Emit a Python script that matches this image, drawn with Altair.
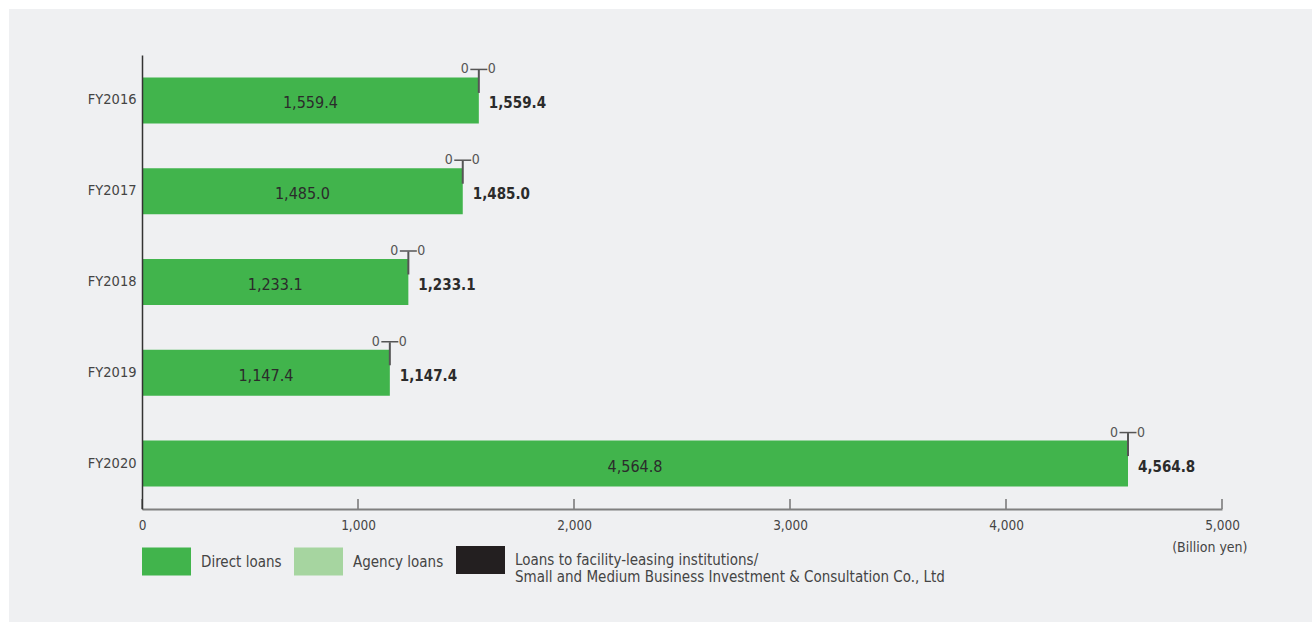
import altair as alt
import pandas as pd

years = ["FY2016", "FY2017", "FY2018", "FY2019", "FY2020"]
direct = [1559.4, 1485.0, 1233.1, 1147.4, 4564.8]
agency = [0, 0, 0, 0, 0]
facility = [0, 0, 0, 0, 0]
series = [
    "Direct loans",
    "Agency loans",
    "Loans to facility-leasing institutions/ Small and Medium Business Investment & Consultation Co., Ltd",
]
colors = ["#41b44c", "#a6d5a0", "#231f20"]
tick_values = [0, 1000, 2000, 3000, 4000, 5000]

FONT = "DejaVu Sans Condensed, Liberation Sans Narrow, sans-serif"
W, H = 1080, 454

rows = []
for i, y in enumerate(years):
    for k, (s, vals) in enumerate(zip(series, [direct, agency, facility])):
        rows.append({"year": y, "series": s, "value": vals[i], "order": k})
long_df = pd.DataFrame(rows)

wide_df = pd.DataFrame({
    "year": years,
    "direct": direct,
    "agency": agency,
    "facility": facility,
})
wide_df["total"] = wide_df["direct"] + wide_df["agency"] + wide_df["facility"]
wide_df["mid"] = wide_df["direct"] / 2

ticks_df = pd.DataFrame({"t": tick_values})

xscale = alt.Scale(domain=[0, 5000], nice=False, zero=True)
yscale = alt.Scale(domain=years, paddingInner=0.494, paddingOuter=0.2475)

ylab = alt.Y("year:N", scale=yscale, sort=years,
             axis=alt.Axis(title=None, ticks=False, labelFont=FONT, labelFontSize=14.5,
                           labelColor="#444444", labelPadding=6, domainColor="#333333",
                           domainWidth=1.5, zindex=1))

bars = alt.Chart(long_df).mark_bar(strokeWidth=0).encode(
    x=alt.X("value:Q", scale=xscale, stack="zero",
            axis=alt.Axis(values=tick_values, format=",.0f", ticks=False, grid=False,
                          labelFlush=False,
                          labelFont=FONT, labelFontSize=13.5, labelColor="#444444",
                          labelPadding=9, domainColor="#7f7f7f", domainWidth=2,
                          zindex=1,
                          title="(Billion yen)", titleFont=FONT, titleFontSize=14,
                          titleFontWeight="normal", titleColor="#444444",
                          titleAlign="right", titleAnchor="end", titleX=W + 25,
                          titleY=38, titleBaseline="middle")),
    y=ylab,
    color=alt.Color("series:N", scale=alt.Scale(domain=series, range=colors),
                    legend=alt.Legend(title=None, orient="none", legendX=0, legendY=483,
                                      direction="horizontal", columns=3,
                                      symbolType="M-1,-0.571L1,-0.571L1,0.571L-1,0.571Z",
                                      symbolSize=2401, symbolStrokeWidth=0,
                                      symbolOpacity=1, labelFont=FONT, labelFontSize=15,
                                      labelColor="#444444", labelOffset=10,
                                      columnPadding=12, labelLimit=1000, padding=0,
                                      clipHeight=44,
                                      labelExpr="indexof(datum.label, '/') > 0 ? [slice(datum.label, 0, indexof(datum.label, '/') + 1), slice(datum.label, indexof(datum.label, '/') + 2)] : datum.label")),
    order=alt.Order("order:Q"),
)

inner = alt.Chart(wide_df).mark_text(font=FONT, fontSize=16, color="#2b2b2b",
                                     baseline="middle", dy=3).encode(
    x=alt.X("mid:Q", scale=xscale),
    y=alt.Y("year:N", scale=yscale, sort=years),
    text=alt.Text("direct:Q", format=",.1f"),
)

outer = alt.Chart(wide_df).mark_text(font=FONT, fontSize=15, fontWeight="bold",
                                     color="#2b2b2b", align="left", baseline="middle",
                                     dx=10, dy=3).encode(
    x=alt.X("total:Q", scale=xscale),
    y=alt.Y("year:N", scale=yscale, sort=years),
    text=alt.Text("total:Q", format=",.1f"),
)

vtick = alt.Chart(wide_df).mark_tick(orient="vertical", size=23, thickness=2,
                                     color="#555555", yOffset=-19, opacity=1).encode(
    x=alt.X("total:Q", scale=xscale),
    y=alt.Y("year:N", scale=yscale, sort=years),
)
htick = alt.Chart(wide_df).mark_tick(orient="horizontal", size=17, thickness=1.5,
                                     color="#555555", yOffset=-31, opacity=1).encode(
    x=alt.X("total:Q", scale=xscale),
    y=alt.Y("year:N", scale=yscale, sort=years),
)
zero_left = alt.Chart(wide_df).mark_text(font=FONT, fontSize=14, color="#555555",
                                         baseline="middle", dx=-14, dy=-31).encode(
    x=alt.X("total:Q", scale=xscale),
    y=alt.Y("year:N", scale=yscale, sort=years),
    text=alt.Text("agency:Q", format=",.0f"),
)
zero_right = alt.Chart(wide_df).mark_text(font=FONT, fontSize=14, color="#555555",
                                          baseline="middle", dx=13, dy=-31).encode(
    x=alt.X("total:Q", scale=xscale),
    y=alt.Y("year:N", scale=yscale, sort=years),
    text=alt.Text("facility:Q", format=",.0f"),
)

axis_ticks = alt.Chart(ticks_df).mark_rule(color="#555555", strokeWidth=1.2).encode(
    x=alt.X("t:Q", scale=xscale),
    y=alt.value(H - 10),
    y2=alt.value(H),
)

panel = alt.Chart(ticks_df).mark_rect(color="#eff0f2").encode(
    x=alt.value(-133), x2=alt.value(W + 90), y=alt.value(-46), y2=alt.value(H + 113),
)

chart = alt.layer(panel, bars, inner, outer, vtick, htick, zero_left, zero_right,
                  axis_ticks).properties(
    width=W, height=H,
    background="#ffffff",
    padding={"left": 142, "top": 55, "right": 90, "bottom": 113},
    autosize=alt.AutoSizeParams(type="none"),
).configure_view(stroke=None)

chart.save("out.html", embed_options={"renderer": "svg", "actions": False})
